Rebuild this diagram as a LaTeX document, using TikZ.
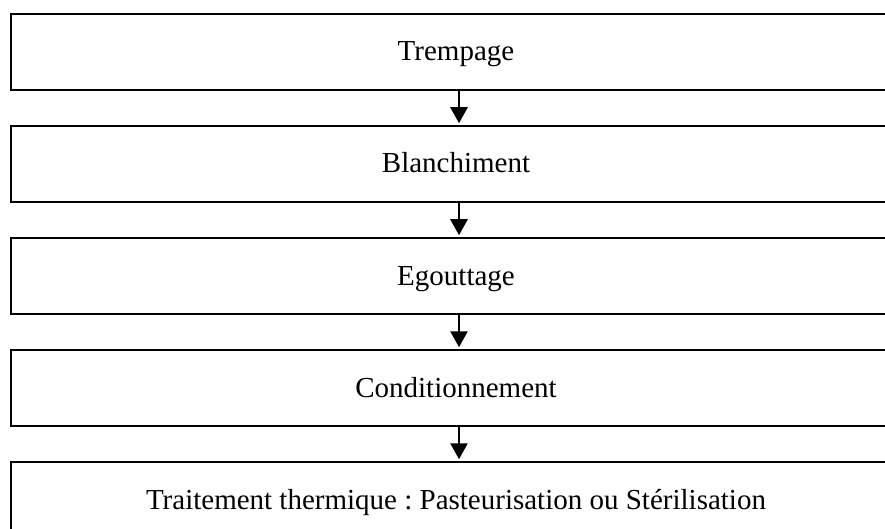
\documentclass[tikz,border=0pt]{standalone}
\usepackage{fontspec}
\setmainfont{Liberation Serif}
\usetikzlibrary{arrows.meta}
\frenchspacing
\tikzset{
  etape/.style={draw, line width=1.5pt, minimum width=890pt, minimum height=76pt,
                inner sep=0pt, text height=20pt, text depth=2pt,
                font=\fontsize{29}{34}\selectfont},
  fleche/.style={line width=2.6pt, -{Triangle[width=17pt,length=16pt]}, shorten >=2pt}
}
\begin{document}
\begin{tikzpicture}[x=1pt, y=-1pt]
            \path[use as bounding box, clip] (0,0) rectangle (885,529);
            \node[etape] (tremp) at (456,52) {Trempage};
            \node[etape] (blanch) at (456,164) {Blanchiment};
            \node[etape] (egout) at (456,276) {Egouttage};
            \node[etape] (cond) at (456,388) {Conditionnement};
            \node[etape] (trait) at (456,500) {Traitement thermique : Pasteurisation ou Stérilisation};
            \draw[fleche] (tremp.south -| 459,0) -- (blanch.north -| 459,0);
            \draw[fleche] (blanch.south -| 459,0) -- (egout.north -| 459,0);
            \draw[fleche] (egout.south -| 459,0) -- (cond.north -| 459,0);
            \draw[fleche] (cond.south -| 459,0) -- (trait.north -| 459,0);
        \end{tikzpicture}
\end{document}
